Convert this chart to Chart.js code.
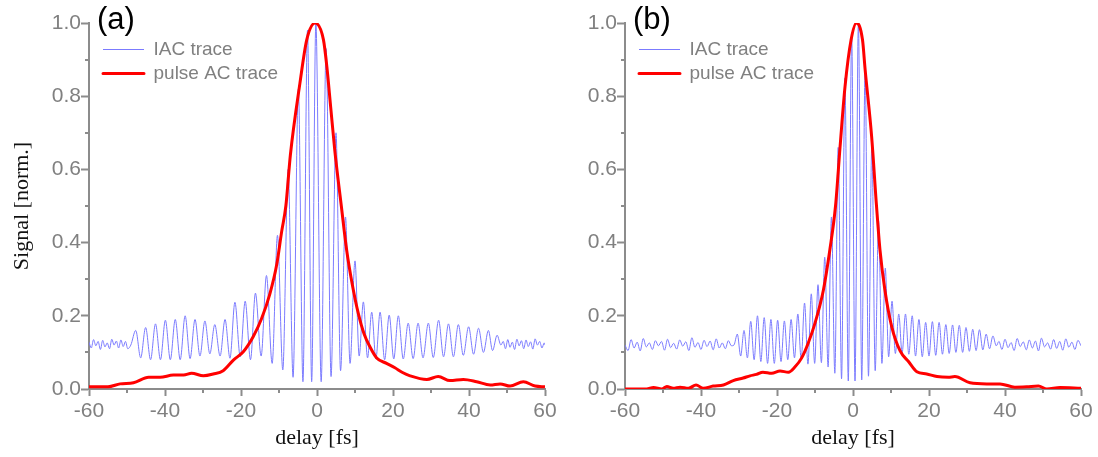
<!DOCTYPE html>
<html>
<head>
<meta charset="utf-8">
<title>IAC traces</title>
<script src="https://cdn.jsdelivr.net/npm/chart.js@4.4.1/dist/chart.umd.min.js"></script>
<style>
  html, body { margin: 0; padding: 0; background: #fff; }
  #wrap { position: relative; width: 1098px; height: 457px; overflow: hidden; }
  canvas { position: absolute; top: 0; }
  #chartA { left: 0; width: 565px; height: 457px; }
  #chartB { left: 549px; width: 549px; height: 457px; }
  .panel-label { position: absolute; top: 3px; font-family: 'Liberation Sans', Arial, sans-serif; font-size: 31px; line-height: 1; color: #000; }
</style>
</head>
<body>
<div id="wrap">
  <canvas id="chartA" width="565" height="457"></canvas>
  <canvas id="chartB" width="549" height="457"></canvas>
  <div class="panel-label" style="left:97px">(a)</div>
  <div class="panel-label" style="left:633px">(b)</div>
</div>
<script>
// axis ticks
const delayTicks = [-60, -40, -20, 0, 20, 40, 60];
const delayMinorTicks = [-50, -30, -10, 10, 30, 50];
const signalTicks = [0, 0.2, 0.4, 0.6, 0.8, 1.0];
const signalMinorTicks = [0.1, 0.3, 0.5, 0.7, 0.9];

const seriesNames = ['IAC trace', 'pulse AC trace'];

// panel (a) - IAC trace: flat noise, fringe extrema, flat noise
const iacA_delay = [
  -60, -59.4, -58.8, -58.2, -57.6, -57, -56.4, -55.8, -55.2, -54.6, -54, -53.4, -52.8, -52.2, -51.6, -51, -50.4, -49.8,
  -49, -47.7, -46.4, -45.1, -43.8, -42.5, -41.2, -39.9, -38.6, -37.3,
  -36, -34.7, -33.4, -32.1, -30.8, -29.5, -28.2, -26.9, -25.5, -24.2,
  -22.9, -21.6, -20.2, -18.9, -17.5, -16.2, -14.7, -13.3, -11.8, -10.4,
  -9, -7.6, -6.3, -4.9, -3.7, -2.5, -1.4, -0.3, 1.1, 2.4,
  3.7, 5, 6.2, 7.5, 8.7, 10, 11.1, 12.2, 13.3, 14.4,
  15.5, 16.6, 17.8, 19, 20.2, 21.4, 22.7, 24, 25.3, 26.6,
  27.9, 29.3, 30.6, 32, 33.3, 34.6, 35.9, 37.2, 38.5, 39.9,
  41.2, 42.5, 43.8, 45.1, 46.2, 47.4, 48.4,
  49, 49.6, 50.2, 50.8, 51.4, 52, 52.6, 53.2, 53.8, 54.4, 55, 55.6, 56.2, 56.8, 57.4, 58, 58.6, 59.2, 59.8, 60
];
const iacA_signal = [
  0.128, 0.112, 0.135, 0.118, 0.13, 0.108, 0.133, 0.115, 0.126, 0.11, 0.136, 0.12, 0.131, 0.112, 0.134, 0.116, 0.13, 0.11,
  0.12, 0.16, 0.085, 0.168, 0.08, 0.178, 0.08, 0.188, 0.08, 0.19,
  0.08, 0.2, 0.083, 0.19, 0.09, 0.186, 0.096, 0.176, 0.09, 0.19,
  0.084, 0.237, 0.088, 0.24, 0.08, 0.262, 0.09, 0.31, 0.07, 0.42,
  0.052, 0.6, 0.032, 0.82, 0.02, 0.98, 0.02, 1.0, 0.02, 0.93,
  0.034, 0.7, 0.05, 0.47, 0.07, 0.35, 0.09, 0.238, 0.085, 0.21,
  0.082, 0.21, 0.08, 0.202, 0.082, 0.2, 0.082, 0.18, 0.083, 0.18,
  0.085, 0.18, 0.086, 0.188, 0.088, 0.178, 0.088, 0.176, 0.092, 0.17,
  0.095, 0.166, 0.1, 0.16, 0.105, 0.147, 0.12,
  0.13, 0.11, 0.135, 0.114, 0.128, 0.108, 0.136, 0.118, 0.132, 0.11, 0.134, 0.116, 0.129, 0.109, 0.137, 0.12, 0.13, 0.112, 0.126, 0.12
];
// panel (a) - pulse AC trace
const acA_delay = [
  -60, -55, -51.8, -48.3, -44.3, -41.3, -37.8, -35.1, -33, -29.9,
  -27.3, -24.7, -22, -19.4, -16.8, -14.6, -12.4, -10.6, -9.3, -8.2,
  -7, -4.5, -2.7, -0.5, 1.7, 2.6, 3.6, 4.7, 6.4, 7.8,
  9.3, 10.9, 12.4, 13.9, 15.7, 18.3, 20.5, 22.5, 24.5, 28.9,
  31.9, 35, 38.5, 42, 45.6, 48.2, 50.8, 54.3, 57.4, 60
];
const acA_signal = [
  0.006, 0.006, 0.014, 0.017, 0.032, 0.032, 0.038, 0.038, 0.043, 0.036,
  0.041, 0.05, 0.079, 0.102, 0.143, 0.192, 0.26, 0.34, 0.43, 0.5,
  0.64, 0.835, 0.954, 1.0, 0.954, 0.88, 0.77, 0.65, 0.5, 0.38,
  0.285, 0.205, 0.15, 0.116, 0.085, 0.07, 0.058, 0.045, 0.036, 0.026,
  0.034, 0.023, 0.026, 0.02, 0.011, 0.014, 0.008, 0.02, 0.008, 0.006
];

// panel (b) - IAC trace
const iacB_delay = [
  -60, -59.2, -58.4, -57.6, -56.8, -56, -55.2, -54.4, -53.6, -52.8,
  -52, -51.2, -50.4, -49.6, -48.8, -48, -47.2, -46.4, -45.6, -44.8,
  -44, -43.2, -42.4, -41.6, -40.8, -40, -39.2, -38.4, -37.6, -36.8,
  -36, -35.2, -34.4, -33.6, -32.8, -32,
  -31.33, -30.44, -29.56, -28.68, -27.79, -26.91, -26.02, -25.14, -24.25, -23.37,
  -22.48, -21.6, -20.71, -19.83, -18.94, -18.06, -17.17, -16.29, -15.4, -14.52,
  -13.63, -12.75, -11.86, -10.98, -10.09, -9.21, -8.32, -7.44, -6.55, -5.67,
  -4.78, -3.9, -3.01, -2.13, -1.24, -0.36, 0.53, 1.42, 2.3, 3.19,
  4.07, 4.96, 5.84, 6.73, 7.61, 8.5, 9.38, 10.27, 11.15, 12.04,
  12.92, 13.81, 14.69, 15.58, 16.46, 17.35, 18.23, 19.12, 20, 20.89,
  21.77, 22.66, 23.54, 24.43, 25.31, 26.2, 27.08, 27.97, 28.85, 29.74,
  30.62, 31.51, 32.39, 33.28, 34.16, 35.05, 35.93, 36.82, 37.7,
  38.4, 39.2, 40, 40.8, 41.6, 42.4, 43.2, 44, 44.8, 45.6,
  46.4, 47.2, 48, 48.8, 49.6, 50.4, 51.2, 52, 52.8, 53.6,
  54.4, 55.2, 56, 56.8, 57.6, 58.4, 59.2, 60
];
const iacB_signal = [
  0.12, 0.105, 0.135, 0.112, 0.128, 0.104, 0.138, 0.115, 0.126, 0.108,
  0.132, 0.118, 0.13, 0.106, 0.136, 0.113, 0.125, 0.109, 0.134, 0.117,
  0.129, 0.105, 0.14, 0.114, 0.127, 0.108, 0.133, 0.116, 0.131, 0.107,
  0.137, 0.112, 0.126, 0.11, 0.132, 0.118,
  0.12, 0.15, 0.09, 0.16, 0.085, 0.185, 0.08, 0.2, 0.075, 0.195,
  0.07, 0.19, 0.07, 0.188, 0.075, 0.186, 0.08, 0.19, 0.085, 0.205,
  0.08, 0.235, 0.068, 0.26, 0.07, 0.285, 0.072, 0.36, 0.06, 0.47,
  0.043, 0.66, 0.028, 0.85, 0.022, 0.97, 0.022, 1.0, 0.025, 0.88,
  0.035, 0.67, 0.05, 0.46, 0.07, 0.33, 0.088, 0.24, 0.097, 0.205,
  0.098, 0.205, 0.095, 0.2, 0.09, 0.19, 0.088, 0.182, 0.09, 0.184,
  0.092, 0.182, 0.095, 0.176, 0.097, 0.175, 0.1, 0.174, 0.1, 0.168,
  0.103, 0.163, 0.105, 0.162, 0.107, 0.15, 0.11, 0.145, 0.118,
  0.13, 0.108, 0.136, 0.113, 0.127, 0.105, 0.138, 0.116, 0.129, 0.107,
  0.134, 0.112, 0.131, 0.104, 0.139, 0.115, 0.126, 0.109, 0.135, 0.111,
  0.13, 0.106, 0.137, 0.114, 0.128, 0.108, 0.133, 0.118
];
// panel (b) - pulse AC trace
const acB_delay = [
  -60, -54.3, -52.5, -50.3, -49, -47.3, -45.5, -43.3, -41.3, -39.4,
  -36.8, -34.1, -31.5, -28.9, -27.1, -25.4, -23.7, -21.4, -19.2, -17,
  -15.3, -13.5, -11.8, -10, -7.8, -6.1, -4.6, -3.4, -2.1, -0.5,
  0.9, 2.5, 3.2, 4.9, 6.2, 7.1, 8.4, 10.2, 12.4, 14.6,
  16.8, 19.4, 22.1, 25.1, 26.8, 30.8, 35.2, 38.7, 42.6, 45.7,
  48.8, 51, 54.5, 60
];
const acB_signal = [
  0, 0, 0.004, 0, 0.007, 0.002, 0.005, 0.002, 0.011, 0.002,
  0.008, 0.011, 0.023, 0.03, 0.036, 0.04, 0.046, 0.043, 0.049, 0.046,
  0.06, 0.085, 0.125, 0.18, 0.27, 0.38, 0.5, 0.662, 0.826, 0.954,
  1.0, 0.954, 0.872, 0.69, 0.498, 0.38, 0.27, 0.17, 0.104, 0.075,
  0.047, 0.041, 0.034, 0.032, 0.034, 0.017, 0.014, 0.014, 0.005, 0.006,
  0.008, 0, 0.004, 0.002
];

const AXIS_GRAY = '#8c8c8c';
const TEXT_GRAY = '#808080';
const IAC_BLUE = '#7b7bff';
const AC_RED = '#ff0000';
const SANS = "'Liberation Sans', Arial, sans-serif";
const SERIF = "'Liberation Serif', 'Times New Roman', serif";

function toPoints(xs, ys) {
    return xs.map((x, i) => ({ x: x, y: ys[i] }));
}

// short ticks between the labelled ones
const minorTicksPlugin = {
    id: 'minorTicks',
    afterDraw(chart) {
        const { ctx, scales: { x, y } } = chart;
        ctx.save();
        ctx.strokeStyle = AXIS_GRAY;
        ctx.lineWidth = 2;
        ctx.beginPath();
        delayMinorTicks.forEach(v => {
            const px = Math.round(x.getPixelForValue(v));
            ctx.moveTo(px, y.bottom);
            ctx.lineTo(px, y.bottom + 4);
        });
        signalMinorTicks.forEach(v => {
            const py = Math.round(y.getPixelForValue(v));
            ctx.moveTo(x.left, py);
            ctx.lineTo(x.left - 4, py);
        });
        ctx.stroke();
        ctx.restore();
    }
};

// legend takes no layout room and sits in the top-left of the plot
const legendInsidePlugin = {
    id: 'legendInside',
    beforeLayout(chart) {
        const lg = chart.legend;
        if (lg && !lg._inside) {
            const fit = lg.fit;
            lg.fit = function() { fit.call(this); this.width = 0; };
            lg._inside = true;
        }
    },
    afterLayout(chart) {
        const lg = chart.legend;
        const area = chart.chartArea;
        lg.left = area.left + 9;
        lg.right = lg.left + 220;
        lg.top = area.top + 12;
        lg.bottom = area.bottom;
    }
};

function makeChart(canvasId, iacDelay, iacSignal, acDelay, acSignal, opts) {
    const ctx = document.getElementById(canvasId);
    return new Chart(ctx, {
        type: 'line',
        data: {
            datasets: [{
                label: seriesNames[0],
                data: toPoints(iacDelay, iacSignal),
                borderColor: IAC_BLUE,
                backgroundColor: 'transparent',
                borderWidth: 1,
                pointRadius: 0,
                cubicInterpolationMode: 'monotone',
                order: 1
            }, {
                label: seriesNames[1],
                data: toPoints(acDelay, acSignal),
                borderColor: AC_RED,
                backgroundColor: 'transparent',
                borderWidth: 3,
                pointRadius: 0,
                cubicInterpolationMode: 'monotone',
                borderJoinStyle: 'round',
                order: 0
            }]
        },
        options: {
            responsive: false,
            animation: false,
            layout: { padding: { left: 0, right: opts.padRight, top: 23, bottom: 0 } },
            plugins: {
                legend: {
                    position: 'left',
                    align: 'start',
                    labels: {
                        boxWidth: 41,
                        boxHeight: 0,
                        padding: 5,
                        color: TEXT_GRAY,
                        font: { family: SANS, size: 19 },
                        sort: (a, b) => a.datasetIndex - b.datasetIndex
                    }
                },
                tooltip: { enabled: false }
            },
            scales: {
                x: {
                    type: 'linear',
                    min: -60,
                    max: 60,
                    afterBuildTicks: s => { s.ticks = delayTicks.map(v => ({ value: v })); },
                    afterFit: s => { s.height = 68; },
                    grid: { drawOnChartArea: false, drawTicks: true, tickLength: 7, tickColor: AXIS_GRAY, tickWidth: 2 },
                    border: { display: true, color: AXIS_GRAY, width: 2 },
                    ticks: {
                        color: TEXT_GRAY,
                        padding: 3,
                        maxRotation: 0,
                        autoSkip: false,
                        font: { family: SANS, size: 21 },
                        callback: v => String(v)
                    },
                    title: {
                        display: true,
                        text: 'delay [fs]',
                        color: '#111',
                        font: { family: SERIF, size: 22 },
                        padding: { top: 0, bottom: 6 }
                    }
                },
                y: {
                    type: 'linear',
                    min: 0,
                    max: 1,
                    afterBuildTicks: s => { s.ticks = signalTicks.map(v => ({ value: v })); },
                    afterFit: s => { s.width = opts.yWidth; },
                    grid: { drawOnChartArea: false, drawTicks: true, tickLength: 8, tickColor: AXIS_GRAY, tickWidth: 2 },
                    border: { display: true, color: AXIS_GRAY, width: 2 },
                    ticks: {
                        color: TEXT_GRAY,
                        padding: 0,
                        font: { family: SANS, size: 21 },
                        callback: v => Number(v).toFixed(1)
                    },
                    title: {
                        display: opts.showYTitle,
                        text: 'Signal [norm.]',
                        color: '#111',
                        font: { family: SERIF, size: 22 },
                        padding: { top: 9, bottom: 0 }
                    }
                }
            }
        },
        plugins: [minorTicksPlugin, legendInsidePlugin]
    });
}

makeChart('chartA', iacA_delay, iacA_signal, acA_delay, acA_signal, { yWidth: 89, padRight: 20, showYTitle: true });
makeChart('chartB', iacB_delay, iacB_signal, acB_delay, acB_signal, { yWidth: 76, padRight: 17, showYTitle: false });
</script>
</body>
</html>
